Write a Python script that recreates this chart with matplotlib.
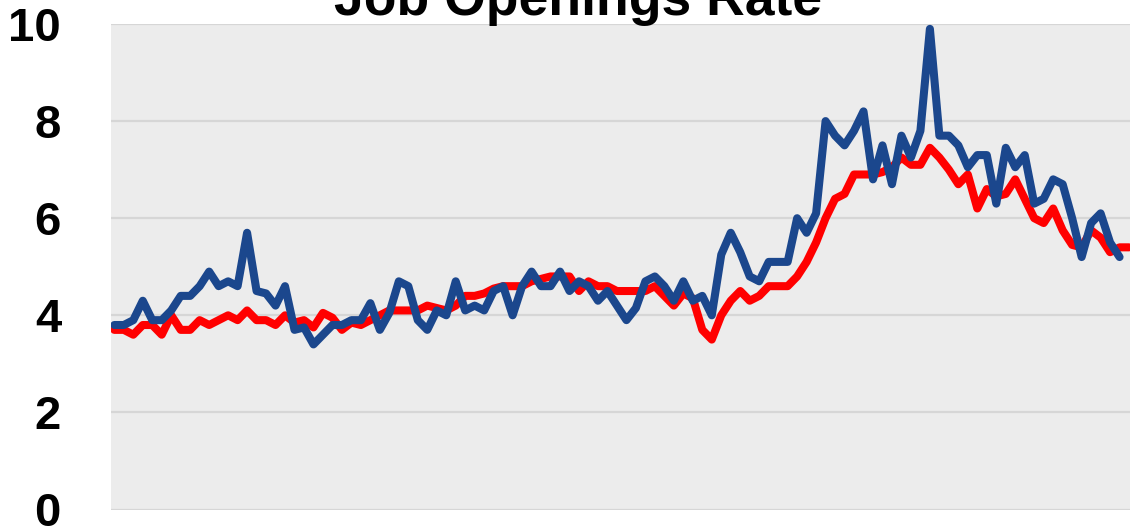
import numpy as np
import matplotlib
matplotlib.use("Agg")
import matplotlib.pyplot as plt

# monthly job openings rate
red_rate = [
    3.7, 3.7, 3.6, 3.8, 3.8, 3.6, 4.0, 3.7, 3.7, 3.9,
    3.8, 3.9, 4.0, 3.9, 4.1, 3.9, 3.9, 3.8, 4.0, 3.85,
    3.9, 3.75, 4.05, 3.95, 3.7, 3.85, 3.8, 3.9, 4.0, 4.1,
    4.1, 4.1, 4.1, 4.2, 4.15, 4.1, 4.2, 4.4, 4.4, 4.45,
    4.55, 4.6, 4.6, 4.6, 4.7, 4.75, 4.8, 4.8, 4.8, 4.5,
    4.7, 4.6, 4.6, 4.5, 4.5, 4.5, 4.5, 4.6, 4.4, 4.2,
    4.45, 4.35, 3.7, 3.5, 4.0, 4.3, 4.5, 4.3, 4.4, 4.6,
    4.6, 4.6, 4.8, 5.1, 5.5, 6.0, 6.4, 6.5, 6.9, 6.9,
    6.9, 6.95, 7.05, 7.25, 7.1, 7.1, 7.45, 7.25, 7.0, 6.7,
    6.9, 6.2, 6.6, 6.45, 6.5, 6.8, 6.4, 6.0, 5.9, 6.2,
    5.75, 5.45, 5.4, 5.75, 5.6, 5.3, 5.4, 5.4,
]
blue_rate = [
    3.8, 3.8, 3.9, 4.3, 3.9, 3.9, 4.1, 4.4, 4.4, 4.6,
    4.9, 4.6, 4.7, 4.6, 5.7, 4.5, 4.45, 4.2, 4.6, 3.7,
    3.75, 3.4, 3.6, 3.8, 3.8, 3.9, 3.9, 4.25, 3.7, 4.05,
    4.7, 4.6, 3.9, 3.7, 4.1, 4.0, 4.7, 4.1, 4.2, 4.1,
    4.5, 4.6, 4.0, 4.6, 4.9, 4.6, 4.6, 4.9, 4.5, 4.7,
    4.6, 4.3, 4.5, 4.2, 3.9, 4.15, 4.7, 4.8, 4.6, 4.3,
    4.7, 4.3, 4.4, 4.0, 5.25, 5.7, 5.3, 4.8, 4.7, 5.1,
    5.1, 5.1, 6.0, 5.7, 6.1, 8.0, 7.7, 7.5, 7.8, 8.2,
    6.8, 7.5, 6.7, 7.7, 7.25, 7.8, 9.9, 7.7, 7.7, 7.5,
    7.05, 7.3, 7.3, 6.3, 7.45, 7.05, 7.3, 6.3, 6.4, 6.8,
    6.7, 6.0, 5.2, 5.9, 6.1, 5.5, 5.2, np.nan,
]
y_ticks = [0, 2, 4, 6, 8, 10]
title = "Job Openings Rate"

plt.rcParams["font.family"] = ["Liberation Sans", "DejaVu Sans"]

fig = plt.figure(figsize=(11.3, 5.29), dpi=100)
ax = fig.add_axes([111 / 1130, 1 - 509.5 / 529, 1 - 111 / 1130, 485.5 / 529])
ax.set_facecolor("#ececec")

months = np.arange(len(red_rate))
ax.plot(months, red_rate, color="#ff0000", lw=5.8,
        solid_joinstyle="round", solid_capstyle="round", zorder=3)
ax.plot(months, blue_rate, color="#1b478d", lw=5.8,
        solid_joinstyle="round", solid_capstyle="round", zorder=4)

ax.set_xlim(-0.35, 107.1)
ax.set_ylim(0, 10)
ax.set_yticks(y_ticks)
ax.set_yticklabels([str(t) for t in y_ticks], fontsize=34, fontweight="bold")
ax.tick_params(axis="y", length=0, pad=36)
ax.set_xticks([])
ax.grid(axis="y", color="#d6d6d6", lw=1.6, zorder=1)
for s in ax.spines.values():
    s.set_visible(False)

fig.text(578 / 1130, 1 - 15 / 529, title, ha="center", va="baseline",
         fontsize=38.5, fontweight="bold")

fig.savefig("out.png", dpi=100)
